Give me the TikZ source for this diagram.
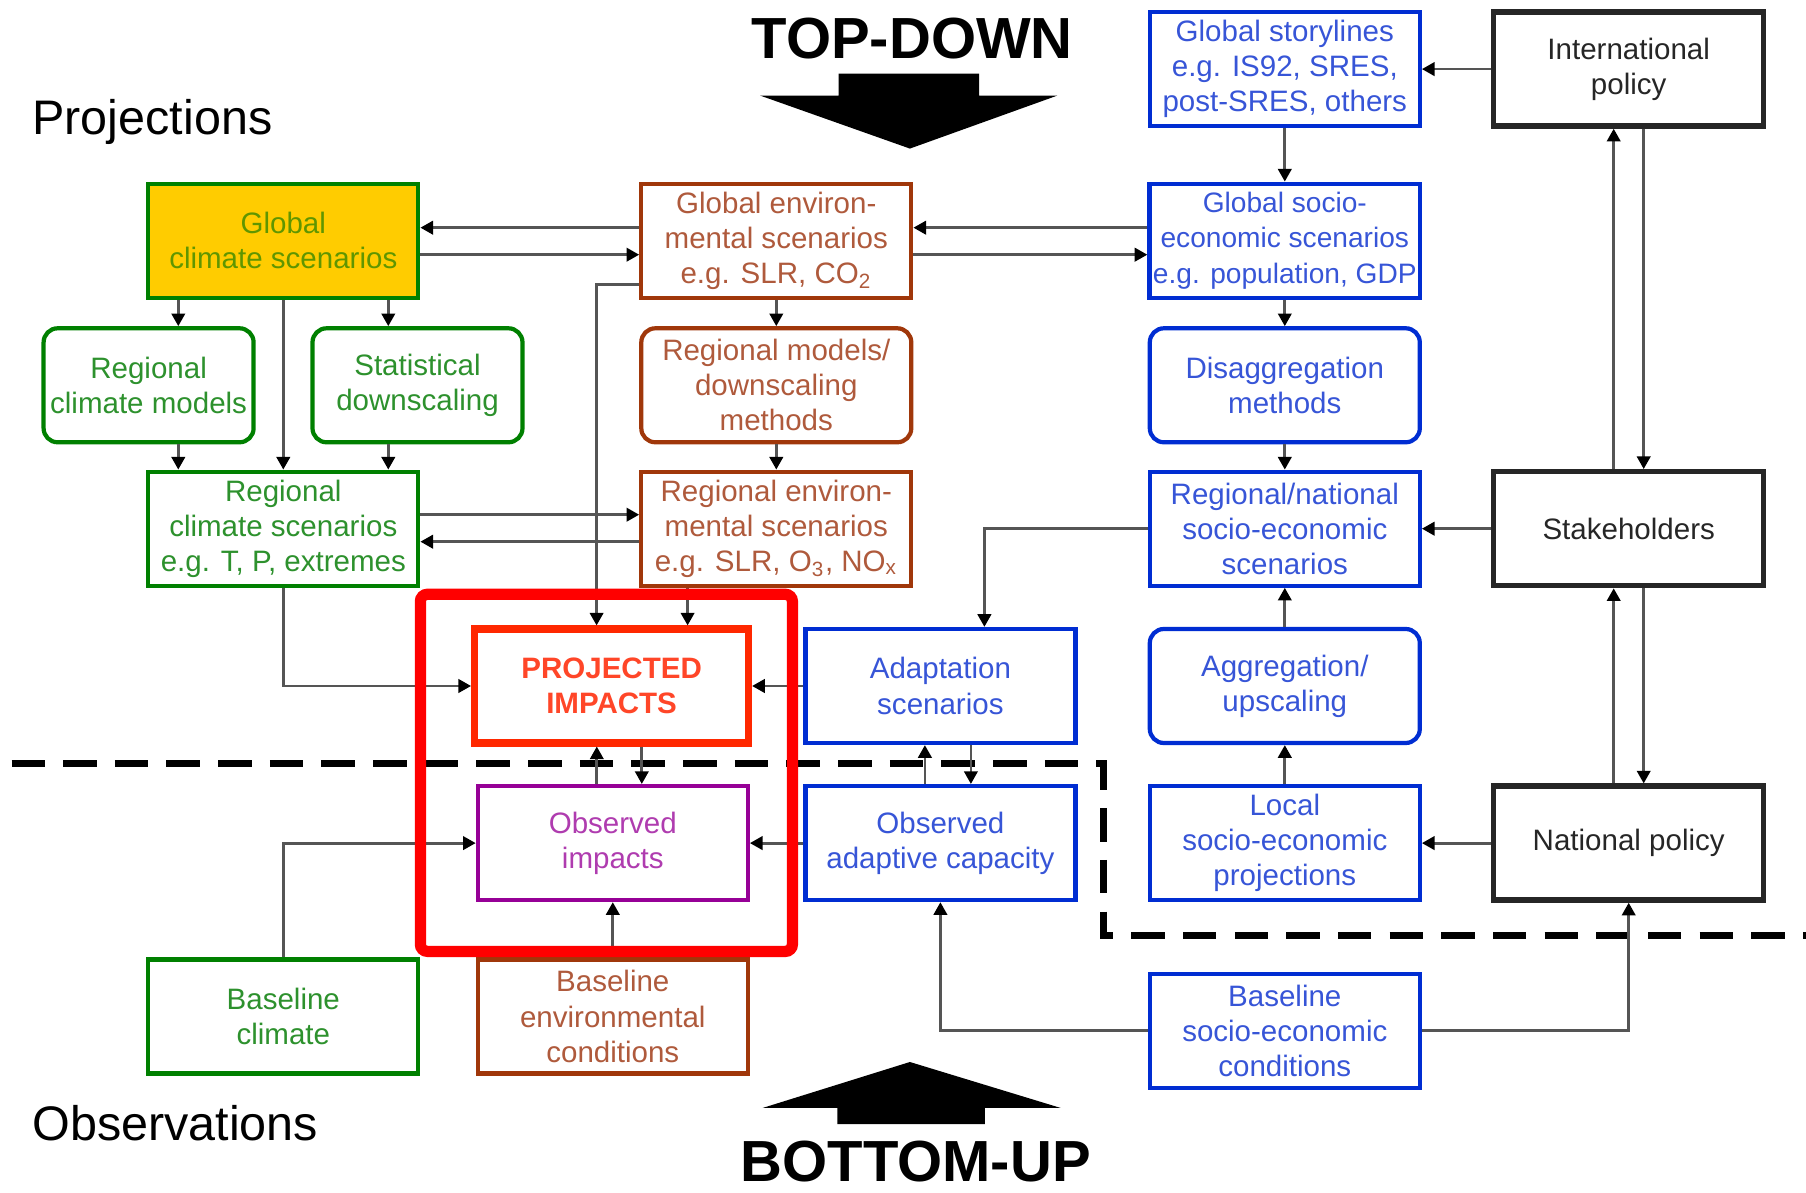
\documentclass[tikz,border=0pt]{standalone}
\usepackage{fontspec}
\setmainfont{Liberation Sans}
\usepackage{tikz}
\usetikzlibrary{arrows.meta,calc}
\definecolor{cgreen}{RGB}{0,128,0}
\definecolor{cgreentext}{RGB}{45,145,45}
\definecolor{colive}{RGB}{95,150,0}
\definecolor{cyellow}{RGB}{255,204,0}
\definecolor{cbrown}{RGB}{160,55,10}
\definecolor{cbrowntext}{RGB}{175,90,60}
\definecolor{cblue}{RGB}{0,45,210}
\definecolor{cbluetext}{RGB}{55,85,215}
\definecolor{cpurple}{RGB}{150,0,150}
\definecolor{cpurpletext}{RGB}{175,60,175}
\definecolor{cred}{RGB}{255,40,0}
\definecolor{credtext}{RGB}{255,70,40}
\definecolor{cline}{RGB}{85,85,85}

\begin{document}
\begin{tikzpicture}[
  box/.style={draw, line width=1.2pt, minimum width=2.7cm, minimum height=1.14cm, inner sep=1pt, align=center, font=\fontsize{8.4}{10}\selectfont},
  greenbox/.style={box, draw=cgreen, text=cgreentext},
  rgreenbox/.style={greenbox, rounded corners=4pt, minimum width=2.1cm},
  brownbox/.style={box, draw=cbrown, text=cbrowntext},
  rbrownbox/.style={brownbox, rounded corners=4pt},
  bluebox/.style={box, draw=cblue, text=cbluetext},
  rbluebox/.style={bluebox, rounded corners=4pt},
  blackbox/.style={box, draw=black!85, text=black!85, line width=1.5pt},
  conn/.style={draw=cline, line width=0.8pt, -{Triangle[length=3.6pt,width=3.8pt,color=black]}},
  bigtext/.style={font=\fontsize{16.5}{20}\selectfont\bfseries, anchor=base},
  sidetext/.style={font=\fontsize{13.8}{16}\selectfont, anchor=base west}
]
\useasboundingbox (0cm,0cm) rectangle (18.06cm,-11.93cm);

\node[sidetext] (p) at (0.2cm,-1.348cm) {Projections};
\node[sidetext] (o) at (0.2cm,-11.403cm) {Observations};
\node[bigtext] (td) at (9.122cm,-0.582cm) {TOP-DOWN};
\node[bigtext] (bu) at (9.157cm,-11.82cm) {BOTTOM-UP};

\fill (8.385cm,-0.737cm) -- (9.790cm,-0.737cm) -- (9.790cm,-0.956cm) -- (10.573cm,-0.956cm) -- (9.099cm,-1.486cm) -- (7.602cm,-0.956cm) -- (8.385cm,-0.956cm) -- cycle;
\fill (9.099cm,-10.620cm) -- (10.608cm,-11.080cm) -- (9.848cm,-11.080cm) -- (9.848cm,-11.242cm) -- (8.374cm,-11.242cm) -- (8.374cm,-11.080cm) -- (7.625cm,-11.080cm) -- cycle;

\node[greenbox, fill=cyellow, text=colive] (1) at (2.833cm,-2.407cm) {Global\\climate scenarios};
\node[rgreenbox] (2) at (1.486cm,-3.853cm) {Regional\\climate models};
\node[rgreenbox] (3) at (4.175cm,-3.853cm) {Statistical\\downscaling};
\node[greenbox] (4) at (2.833cm,-5.287cm) {Regional\\climate scenarios\\e.g. T, P, extremes};
\node[greenbox] (5) at (2.833cm,-10.165cm) {Baseline\\climate};
\node[brownbox] (6) at (7.763cm,-2.407cm) {Global environ-\\mental scenarios\\e.g. SLR, CO\textsubscript{2}};
\node[rbrownbox] (7) at (7.763cm,-3.853cm) {Regional models/\\downscaling\\methods};
\node[brownbox] (8) at (7.763cm,-5.287cm) {Regional environ-\\mental scenarios\\e.g. SLR, O\textsubscript{3}, NO\textsubscript{x}};
\node[box, draw=cred, text=credtext, line width=2pt, minimum width=2.74cm, font=\fontsize{8.4}{10}\selectfont\bfseries] (9) at (6.116cm,-6.86cm) {PROJECTED\\IMPACTS};
\node[box, draw=cpurple, text=cpurpletext] (10) at (6.128cm,-8.431cm) {Observed\\impacts};
\node[brownbox] (11) at (6.128cm,-10.165cm) {Baseline\\environmental\\conditions};
\node[bluebox] (12) at (9.404cm,-6.86cm) {Adaptation\\scenarios};
\node[bluebox] (13) at (9.404cm,-8.431cm) {Observed\\adaptive capacity};
\node[bluebox] (14) at (12.848cm,-0.691cm) {Global storylines\\e.g. IS92, SRES,\\post-SRES, others};
\node[bluebox, font=\fontsize{8}{10}\selectfont] (15) at (12.848cm,-2.407cm) {Global socio-\\economic scenarios\\e.g. population, GDP};
\node[rbluebox] (16) at (12.848cm,-3.853cm) {Disaggregation\\methods};
\node[bluebox] (17) at (12.848cm,-5.287cm) {Regional/national\\socio-economic\\scenarios};
\node[rbluebox] (18) at (12.848cm,-6.86cm) {Aggregation/\\upscaling};
\node[bluebox] (19) at (12.848cm,-8.431cm) {Local\\socio-economic\\projections};
\node[bluebox] (20) at (12.848cm,-10.309cm) {Baseline\\socio-economic\\conditions};
\node[blackbox] (21) at (16.287cm,-0.691cm) {International\\policy};
\node[blackbox] (22) at (16.287cm,-5.287cm) {Stakeholders};
\node[blackbox] (23) at (16.287cm,-8.431cm) {National policy};

\draw[line width=2pt, dash pattern=on 9.5pt off 5.2pt] (0.115cm,-7.636cm) -- (11.034cm,-7.636cm) -- (11.034cm,-9.353cm) -- (18.06cm,-9.353cm);

\draw[conn] ([yshift=0.13cm]6.west) -- ([yshift=0.13cm]6.west -| 1.east);
\draw[conn] ([yshift=-0.14cm]1.east) -- ([yshift=-0.14cm]1.east -| 6.west);
\draw[conn] ([yshift=-0.44cm]6.west) -| ([xshift=-0.15cm]9.north);
\draw[conn] ([yshift=0.13cm]15.west) -- ([yshift=0.13cm]15.west -| 6.east);
\draw[conn] ([yshift=-0.14cm]6.east) -- ([yshift=-0.14cm]6.east -| 15.west);
\draw[conn] (14.south) -- (15.north);
\draw[conn] (21.west) -- (14.east);
\draw[conn] ([xshift=-1.05cm]1.south) -- ([xshift=-1.05cm]1.south |- 2.north);
\draw[conn] ([xshift=1.05cm]1.south) -- ([xshift=1.05cm]1.south |- 3.north);
\draw[conn] (1.south) -- (4.north);
\draw[conn] ([xshift=-1.05cm]4.north |- 2.south) -- ([xshift=-1.05cm]4.north);
\draw[conn] ([xshift=1.05cm]4.north |- 3.south) -- ([xshift=1.05cm]4.north);
\draw[conn] (6.south) -- (7.north);
\draw[conn] (7.south) -- (8.north);
\draw[conn] ([yshift=0.14cm]4.east) -- ([yshift=0.14cm]4.east -| 8.west);
\draw[conn] ([yshift=-0.13cm]8.west) -- ([yshift=-0.13cm]8.west -| 4.east);
\draw[conn] ([xshift=0.76cm]9.north |- 8.south) -- ([xshift=0.76cm]9.north);
\draw[conn] (4.south) |- (9.west);
\draw[conn] (15.south) -- (16.north);
\draw[conn] (16.south) -- (17.north);
\draw[conn] (17.west) -| ([xshift=0.44cm]12.north);
\draw[conn] (22.west) -- (17.east);
\draw[conn] (18.north) -- (17.south);
\draw[conn] (19.north) -- (18.south);
\draw[conn] (23.west) -- (19.east);
\draw[conn] (12.west) -- (9.east);
\draw[conn] (13.west) -- (10.east);
\draw[conn] ([xshift=-0.16cm]10.north) -- ([xshift=-0.16cm]10.north |- 9.south);
\draw[conn] ([xshift=0.29cm]10.north |- 9.south) -- ([xshift=0.29cm]10.north);
\draw[conn] ([xshift=-0.155cm]13.north) -- ([xshift=-0.155cm]13.north |- 12.south);
\draw[conn] ([xshift=0.305cm]13.north |- 12.south) -- ([xshift=0.305cm]13.north);
\draw[conn] (5.north) |- (10.west);
\draw[conn] (11.north) -- (10.south);
\draw[conn] (20.west) -| (13.south);
\draw[conn] (20.east) -| (23.south);
\draw[conn] ([xshift=-0.15cm]22.north) -- ([xshift=-0.15cm]21.south);
\draw[conn] ([xshift=0.15cm]21.south) -- ([xshift=0.15cm]22.north);
\draw[conn] ([xshift=-0.15cm]23.north) -- ([xshift=-0.15cm]22.south);
\draw[conn] ([xshift=0.15cm]22.south) -- ([xshift=0.15cm]23.north);

\draw[red, line width=3.2pt, rounded corners=2pt] (4.204cm,-5.943cm) rectangle (7.924cm,-9.514cm);
\end{tikzpicture}
\end{document}
